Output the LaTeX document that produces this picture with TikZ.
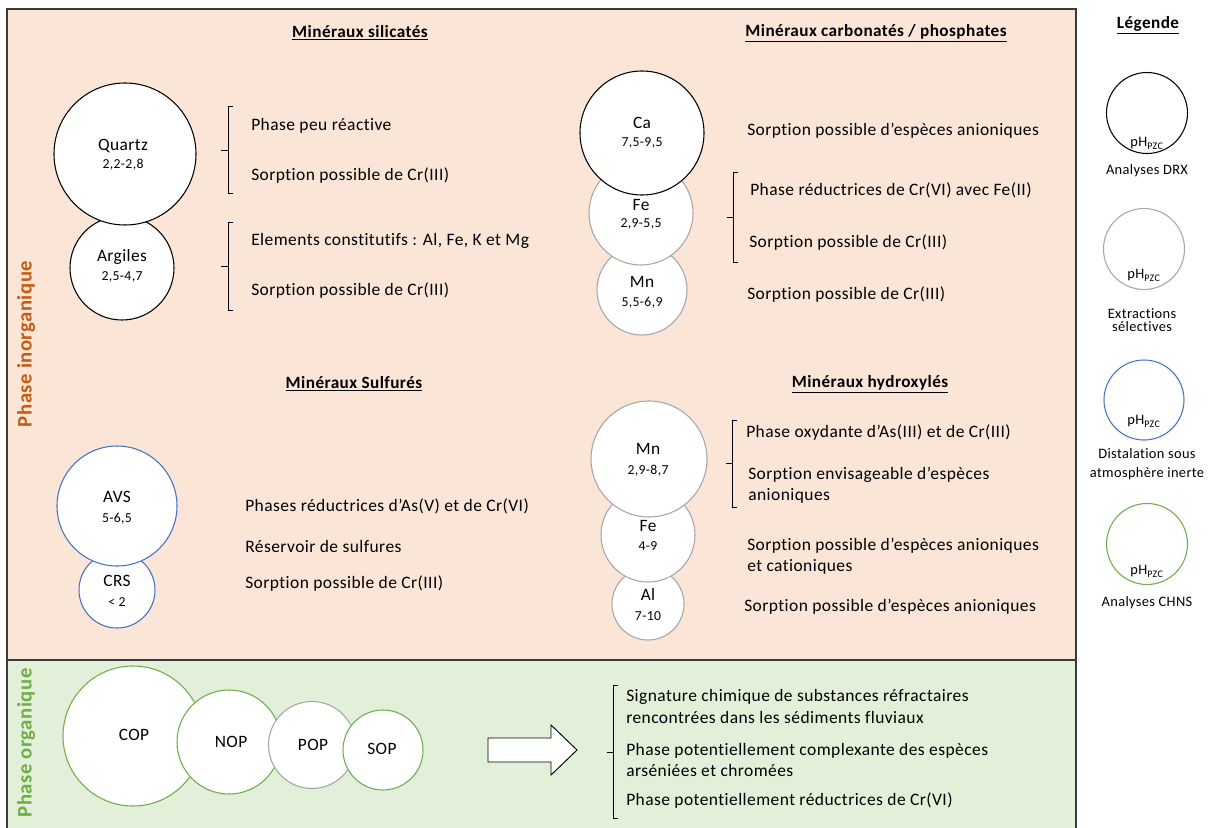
\documentclass[tikz,border=0pt]{standalone}
\usepackage{fontspec}
\setmainfont{Carlito}[LetterSpace=2.5,Ligatures=NoCommon]
\definecolor{peach}{HTML}{FBE5D6}
\definecolor{lgreen}{HTML}{E2F0D9}
\definecolor{orgtxt}{HTML}{C55A11}
\definecolor{grntxt}{HTML}{70AD47}
\definecolor{bluec}{HTML}{4472C4}
\definecolor{grayc}{HTML}{A6A6A6}
\definecolor{boxline}{HTML}{3A3A3A}
\begin{document}
\begin{tikzpicture}[x=0.75pt,y=-0.75pt,
  txt/.style={anchor=west,font=\fontsize{13.1}{15}\selectfont,text height=1.5ex,text depth=.25ex,inner sep=0pt},
  ttl/.style={font=\bfseries\fontsize{12.9}{15}\selectfont,inner sep=0pt},
  lbl/.style={font=\fontsize{13}{15}\selectfont,text height=1.5ex,text depth=.25ex,inner sep=0pt},
  sublbl/.style={font=\fontsize{10.3}{12}\selectfont,text height=1.5ex,text depth=.25ex,inner sep=0pt},
  leg/.style={font=\fontsize{10.8}{12}\selectfont,text height=1.5ex,text depth=.25ex,inner sep=0pt},
  ring/.style={circle,draw,fill=white,inner sep=0pt,line width=0.8pt,minimum size=#1*0.75pt},
  drx/.style={ring=#1,draw=black},
  ext/.style={ring=#1,draw=grayc},
  dist/.style={ring=#1,draw=bluec},
  chns/.style={ring=#1,draw=grntxt},
  brc/.style={draw=black,line width=0.65pt},
  vlab/.style={rotate=90,font=\bfseries\fontsize{15.5}{17}\selectfont,inner sep=0pt}]
\useasboundingbox (0,0) rectangle (1210,828);
% panels
\path[fill=peach,draw=boxline,line width=1.2pt] (7,9) rectangle (1076,660);
\fill[lgreen] (7,660) rectangle (1076,828);
\draw[boxline,line width=1.2pt] (7,828) -- (7,660) -- (1076,660) -- (1076,828);
\node[vlab,text=orgtxt] (vinorg) at (26,344) {Phase inorganique};
\node[vlab,text=grntxt] (vorg) at (26,743) {Phase organique};
% titles
\node[ttl] (t1) at (360,33) {\underline{Minéraux silicatés}};
\node[ttl] (t2) at (876,33) {\underline{Minéraux carbonatés / phosphates}};
\node[ttl] (t3) at (354,384) {\underline{Minéraux Sulfurés}};
\node[ttl] (t4) at (870,384) {\underline{Minéraux hydroxylés}};
\node[ttl] (t5) at (1148,25) {\underline{Légende}};
% silicates
\node[drx=104] (argiles) at (122,268) {};
\node[drx=142] (quartz) at (125,154) {};
\node[lbl] (quartzA) at (123,147) {Quartz};
\node[sublbl] (quartzB) at (123,165) {2,2-2,8};
\node[lbl] (argA) at (122,258) {Argiles};
\node[sublbl] (argB) at (122,277) {2,5-4,7};
\draw[brc] (233,106) -- (228,106) -- (228,193) -- (233,193) (228,150) -- (221,150);
\draw[brc] (233,222) -- (228,222) -- (228,310) -- (233,310) (228,266) -- (221,266);
\node[txt] (s1) at (251,127) {Phase peu réactive};
\node[txt] (s2) at (251,177) {Sorption possible de Cr(III)};
\node[txt] (s3) at (251,242) {Elements constitutifs : Al, Fe, K et Mg};
\node[txt] (s4) at (251,292) {Sorption possible de Cr(III)};
% carbonates
\node[ext=90] (cmn) at (642,290) {};
\node[ext=104] (cfe) at (641,213) {};
\node[drx=124] (cca) at (642,133) {};
\node[lbl] (ccaA) at (642,125) {Ca};
\node[sublbl] (ccaB) at (642,143) {7,5-9,5};
\node[lbl] (cfeA) at (641,207) {Fe};
\node[sublbl] (cfeB) at (641,224) {2,9-5,5};
\node[lbl] (cmnA) at (642,284) {Mn};
\node[sublbl] (cmnB) at (642,303) {5,5-6,9};
\draw[brc] (738,172) -- (733,172) -- (733,262) -- (738,262) (733,217) -- (727,217);
\node[txt] (c1) at (747,132) {Sorption possible d’espèces anioniques};
\node[txt] (c2) at (750,192) {Phase réductrices de Cr(VI) avec Fe(II)};
\node[txt] (c3) at (749,244) {Sorption possible de Cr(III)};
\node[txt] (c4) at (747,296) {Sorption possible de Cr(III)};
% sulfures
\node[dist=76] (crs) at (117,590) {};
\node[dist=120] (avs) at (117,506) {};
\node[lbl] (avsA) at (117,499) {AVS};
\node[sublbl] (avsB) at (117,519) {5-6,5};
\node[lbl] (crsA) at (117,583) {CRS};
\node[sublbl] (crsB) at (117,603) {< 2};
\node[txt] (u1) at (245,508) {Phases réductrices d’As(V) et de Cr(VI)};
\node[txt] (u2) at (245,549) {Réservoir de sulfures};
\node[txt] (u3) at (245,585) {Sorption possible de Cr(III)};
% hydroxyles
\node[ext=72] (hal) at (648,604) {};
\node[ext=94] (hfe) at (648,535) {};
\node[ext=116] (hmn) at (649,459) {};
\node[lbl] (hmnA) at (648,451) {Mn};
\node[sublbl] (hmnB) at (648,471) {2,9-8,7};
\node[lbl] (hfeA) at (648,528) {Fe};
\node[sublbl] (hfeB) at (648,547) {4-9};
\node[lbl] (halA) at (648,597) {Al};
\node[sublbl] (halB) at (648,617) {7-10};
\draw[brc] (737,420) -- (732,420) -- (732,507) -- (737,507) (732,463) -- (726,463);
\node[txt] (h1) at (746,434) {Phase oxydante d’As(III) et de Cr(III)};
\node[txt] (h2) at (748,476) {Sorption envisageable d’espèces};
\node[txt] (h3) at (748,497) {anioniques};
\node[txt] (h4) at (747,547) {Sorption possible d’espèces anioniques};
\node[txt] (h5) at (747,568) {et cationiques};
\node[txt] (h6) at (744,608) {Sorption possible d’espèces anioniques};
% organique
\node[chns=140] (cop) at (133,736) {};
\node[chns=104] (nop) at (229,742) {};
\node[ext=87] (pop) at (312,745) {};
\node[chns=80] (sop) at (383,750) {};
\node[lbl] (copA) at (134,737) {COP};
\node[lbl] (nopA) at (231,744) {NOP};
\node[lbl] (popA) at (313,747) {POP};
\node[lbl] (sopA) at (382,751) {SOP};
\draw[fill=white,draw=black,line width=0.7pt] (488,738) -- (551,738) -- (551,725) -- (577,750) -- (551,775) -- (551,762) -- (488,762) -- cycle;
\draw[brc] (618,685) -- (613,685) -- (613,818) -- (618,818) (613,752) -- (607,752);
\node[txt] (o1) at (626,698) {Signature chimique de substances réfractaires};
\node[txt] (o2) at (626,720) {rencontrées dans les sédiments fluviaux};
\node[txt] (o3) at (626,752) {Phase potentiellement complexante des espèces};
\node[txt] (o4) at (626,773) {arséniées et chromées};
\node[txt] (o5) at (626,802) {Phase potentiellement réductrices de Cr(VI)};
% legende
\node[drx=81] (l1) at (1147,113) {};
\node[ext=81] (l2) at (1144,249) {};
\node[dist=80] (l3) at (1144,400) {};
\node[chns=81] (l4) at (1147,544) {};
\node[leg] (l1p) at (1147,143) {pH\textsubscript{PZC}};
\node[leg] (l2p) at (1144,275) {pH\textsubscript{PZC}};
\node[leg] (l3p) at (1144,421) {pH\textsubscript{PZC}};
\node[leg] (l4p) at (1147,571) {pH\textsubscript{PZC}};
\node[leg] (l1t) at (1147,171) {Analyses DRX};
\node[leg] (l2t) at (1142,315) {Extractions};
\node[leg] (l2u) at (1142,328) {sélectives};
\node[leg] (l3t) at (1147,455) {Distalation sous};
\node[leg] (l3u) at (1147,474) {atmosphère inerte};
\node[leg] (l4t) at (1147,603) {Analyses CHNS};
\end{tikzpicture}
\end{document}
